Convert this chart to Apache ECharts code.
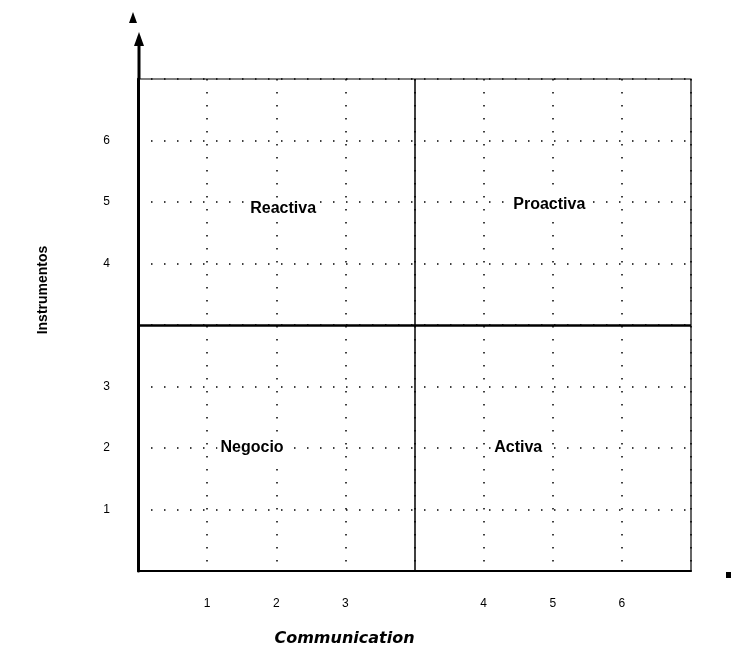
<!DOCTYPE html>
<html>
<head>
<meta charset="utf-8">
<script src="https://cdn.jsdelivr.net/npm/echarts@6/dist/echarts.min.js"></script>
<style>
  html, body { margin: 0; padding: 0; background: #fff; }
  #chart { width: 736px; height: 654px; }
</style>
</head>
<body>
<div id="chart"></div>
<script>
// tick values on the axes and the text shown at them
var xTickValues = [1, 2, 3, 5, 6, 7];
var xTickLabels = ["1", "2", "3", "4", "5", "6"];
var yTickValues = [1, 2, 3, 5, 6, 7];
var yTickLabels = ["1", "2", "3", "4", "5", "6"];

// quadrant names and where they sit
var quadrantNames = ["Reactiva", "Proactiva", "Negocio", "Activa"];
var quadrantX = [2.1, 5.95, 1.65, 5.5];
var quadrantY = [5.9, 5.95, 2.0, 2.0];

// dividing lines
var xDivider = 4;
var yDivider = 4;

var FONT = "Liberation Sans, Arial, sans-serif";

function tickFormatter(values, labels) {
  return function (v) {
    var i = values.indexOf(v);
    return i >= 0 ? labels[i] : "";
  };
}

var labelData = [];
for (var i = 0; i < quadrantNames.length; i++) {
  labelData.push({ value: [quadrantX[i], quadrantY[i]], name: quadrantNames[i] });
}

var chartDom = document.getElementById("chart");
var myChart = echarts.init(chartDom);

var dotted = {
  show: true,
  lineStyle: { color: "#000", width: 1.5, type: [1.5, 11.5] },
};

var option = {
  animation: false,
  backgroundColor: "#fff",
  grid: {
    left: 138,
    right: 45,
    top: 79,
    bottom: 83,
    show: true,
    borderColor: "#000",
    borderWidth: 1.2,
  },
  xAxis: {
    type: "value",
    min: 0,
    max: 8,
    interval: 1,
    name: "Communication",
    nameLocation: "middle",
    nameGap: 60,
    nameTextStyle: {
      fontFamily: "DejaVu Sans, sans-serif",
      fontSize: 16,
      fontWeight: "bold",
      fontStyle: "italic",
      color: "#000",
      padding: [0, 140, 0, 0],
    },
    axisLine: { show: true, lineStyle: { color: "#000", width: 2 } },
    axisTick: { show: false },
    axisLabel: {
      margin: 27,
      fontFamily: FONT,
      fontSize: 12,
      color: "#000",
      formatter: tickFormatter(xTickValues, xTickLabels),
    },
    splitLine: dotted,
  },
  yAxis: {
    type: "value",
    min: 0,
    max: 8,
    interval: 1,
    name: "Instrumentos",
    nameLocation: "middle",
    nameGap: 88,
    nameTextStyle: {
      fontFamily: FONT,
      fontSize: 14,
      fontWeight: "bold",
      color: "#000",
      padding: [0, 0, 0, 70],
    },
    axisLine: { show: true, lineStyle: { color: "#000", width: 3 } },
    axisTick: { show: false },
    axisLabel: {
      margin: 28,
      fontFamily: FONT,
      fontSize: 12,
      color: "#000",
      formatter: tickFormatter(yTickValues, yTickLabels),
    },
    splitLine: dotted,
  },
  series: [
    {
      type: "scatter",
      symbolSize: 0,
      itemStyle: { opacity: 1, color: "#000" },
      data: labelData,
      label: {
        show: true,
        position: "inside",
        formatter: "{b}",
        fontFamily: FONT,
        fontSize: 16,
        fontWeight: "bold",
        color: "#000",
        textBorderWidth: 0,
        backgroundColor: "#fff",
        padding: [2, 3],
      },
      markLine: {
        silent: true,
        symbol: "none",
        label: { show: false },
        data: [
          { xAxis: xDivider, lineStyle: { color: "#000", width: 1.5, type: "solid", opacity: 1 } },
          { yAxis: yDivider, lineStyle: { color: "#000", width: 2.5, type: "solid", opacity: 1 } },
        ],
      },
      z: 5,
    },
  ],
};

option && myChart.setOption(option);

// arrow extension of the vertical axis and the small marker at the end of the x axis
var topLeft = myChart.convertToPixel({ gridIndex: 0 }, [0, 8]);
var bottomRight = myChart.convertToPixel({ gridIndex: 0 }, [8, 0]);
var ax = topLeft[0] + 1;
var ay = topLeft[1];
myChart.setOption({
  graphic: [
    {
      type: "line",
      shape: { x1: ax, y1: ay, x2: ax, y2: ay - 34 },
      style: { stroke: "#000", lineWidth: 3 },
    },
    {
      type: "polygon",
      shape: { points: [[ax, ay - 47], [ax - 5, ay - 33], [ax + 5, ay - 33]] },
      style: { fill: "#000" },
    },
    {
      type: "polygon",
      shape: { points: [[ax - 6, ay - 67], [ax - 10, ay - 56], [ax - 2, ay - 56]] },
      style: { fill: "#000" },
    },
    {
      type: "rect",
      shape: { x: bottomRight[0] + 35, y: bottomRight[1] + 1, width: 5, height: 6 },
      style: { fill: "#000" },
    },
  ],
});
</script>
</body>
</html>
